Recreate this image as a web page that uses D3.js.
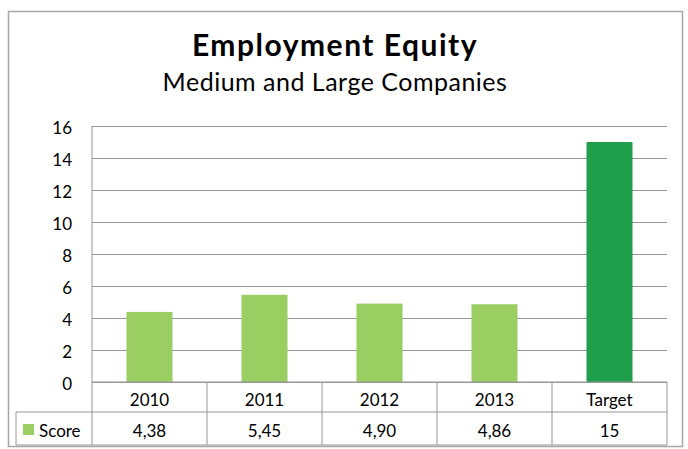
<!DOCTYPE html>
<html>
<head>
<meta charset="utf-8">
<script src="https://cdn.jsdelivr.net/npm/d3@7"></script>
<style>
  html, body { margin: 0; padding: 0; background: #fff; }
  svg { display: block; }
  text { font-family: Lato, "Open Sans", sans-serif; fill: #000; }
</style>
</head>
<body>
<svg id="chart" width="688" height="449"></svg>
<script>
const categories = ["2010", "2011", "2012", "2013", "Target"];
const scores = [4.38, 5.45, 4.90, 4.86, 15];
const scoreLabels = ["4,38", "5,45", "4,90", "4,86", "15"];
const yTicks = [0, 2, 4, 6, 8, 10, 12, 14, 16];
const seriesName = "Score";
const titleText = "Employment Equity";
const subtitleText = "Medium and Large Companies";

const svg = d3.select("#chart");
const W = 688, H = 449;
const plot = { left: 92, right: 667, top: 126, bottom: 382 };
const rowMid = 412, rowBottom = 445, tableLeft = 16;
const lightGreen = "#9BCE62", darkGreen = "#1F9F4C";
const gridColor = "#979797", borderColor = "#A6A6A6";

svg.append("rect").attr("width", W).attr("height", H).attr("fill", "#fff");
// outer border
svg.append("rect")
  .attr("x", 8.5).attr("y", 11.5).attr("width", 674).attr("height", 435)
  .attr("fill", "none").attr("stroke", borderColor).attr("stroke-width", 1.5);

// titles
svg.append("text").attr("x", 335).attr("y", 56).attr("text-anchor", "middle")
  .attr("font-size", 30).attr("letter-spacing", 1.5).attr("font-weight", "bold").text(titleText);
svg.append("text").attr("x", 335).attr("y", 91).attr("text-anchor", "middle")
  .attr("font-size", 25).attr("letter-spacing", 0.5).text(subtitleText);

const x = d3.scaleBand().domain(categories).range([plot.left, plot.right]).padding(0);
const xb = d3.scaleBand().domain(categories).range([plot.left, plot.right])
  .paddingInner(0.6).paddingOuter(0.3);
const y = d3.scaleLinear().domain([0, 16]).range([plot.bottom, plot.top]);

// gridlines
const yAxis = d3.axisLeft(y).tickValues(yTicks).tickSize(-(plot.right - plot.left)).tickPadding(20).tickFormat(d3.format("d"));
const gy = svg.append("g").attr("transform", `translate(${plot.left},0)`).call(yAxis);
gy.select(".domain").remove();
gy.selectAll(".tick line").attr("stroke", gridColor).attr("stroke-width", 1);
gy.selectAll(".tick text").attr("font-size", 17).attr("dy", "0.45em")
  .style("font-family", "Lato, sans-serif").attr("fill", "#000");

// y axis line
svg.append("line").attr("x1", plot.left).attr("x2", plot.left)
  .attr("y1", plot.top).attr("y2", rowBottom).attr("stroke", gridColor);

// bars
svg.append("g").selectAll("rect").data(categories).join("rect")
  .attr("x", d => xb(d)).attr("width", xb.bandwidth())
  .attr("y", (d, i) => y(scores[i]))
  .attr("height", (d, i) => y(0) - y(scores[i]))
  .attr("fill", (d, i) => d === "Target" ? darkGreen : lightGreen);

// data table
const tg = svg.append("g");
tg.append("line").attr("x1", plot.left).attr("x2", plot.right).attr("y1", plot.bottom).attr("y2", plot.bottom).attr("stroke", gridColor);
tg.append("line").attr("x1", tableLeft).attr("x2", plot.right).attr("y1", rowMid).attr("y2", rowMid).attr("stroke", gridColor);
tg.append("line").attr("x1", tableLeft).attr("x2", plot.right).attr("y1", rowBottom).attr("y2", rowBottom).attr("stroke", gridColor);
tg.append("line").attr("x1", tableLeft).attr("x2", tableLeft).attr("y1", rowMid).attr("y2", rowBottom).attr("stroke", gridColor);
tg.selectAll("line.sep").data(categories).join("line").attr("class", "sep")
  .attr("x1", d => x(d) + x.bandwidth()).attr("x2", d => x(d) + x.bandwidth())
  .attr("y1", plot.bottom).attr("y2", rowBottom).attr("stroke", gridColor);

tg.selectAll("text.cat").data(categories).join("text").attr("class", "cat")
  .attr("x", d => x(d) + x.bandwidth() / 2).attr("y", 406)
  .attr("text-anchor", "middle").attr("font-size", 17).text(d => d);
tg.selectAll("text.val").data(categories).join("text").attr("class", "val")
  .attr("x", d => x(d) + x.bandwidth() / 2).attr("y", 437)
  .attr("text-anchor", "middle").attr("font-size", 17).text((d, i) => scoreLabels[i]);

// legend key
tg.append("rect").attr("x", 23).attr("y", 424).attr("width", 11).attr("height", 11).attr("fill", lightGreen);
tg.append("text").attr("x", 39).attr("y", 437).attr("font-size", 17).text(seriesName);
</script>
</body>
</html>
